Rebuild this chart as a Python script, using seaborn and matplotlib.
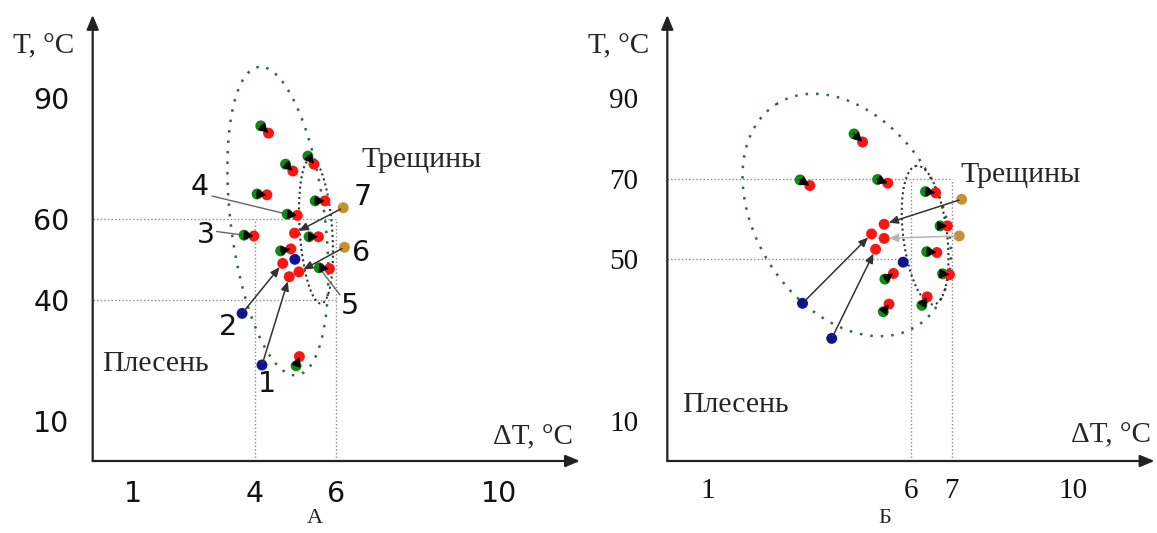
import numpy as np
import pandas as pd
import matplotlib
matplotlib.use("Agg")
import matplotlib.pyplot as plt
import seaborn as sns

sns.set_theme(style="white")
plt.rcParams["font.family"] = ["DejaVu Sans"]
SERIF = ["Liberation Serif", "DejaVu Serif"]
SANS = ["DejaVu Sans"]

# ---------------- data: panel A ----------------
A_green_dT = [4.14, 4.75, 5.30, 4.05, 5.48, 4.79, 3.73, 5.33, 4.63, 5.58, 5.01]
A_green_T = [83.1, 73.6, 75.6, 66.2, 64.5, 61.2, 56.0, 55.6, 52.1, 47.9, 23.6]
A_red_dT = [4.33, 4.93, 5.45, 4.29, 5.72, 5.04, 3.97, 5.56, 4.88, 5.83, 5.09]
A_red_T = [81.3, 71.9, 73.6, 66.0, 64.5, 60.9, 55.8, 55.6, 52.6, 47.7, 25.9]
A_src_kind = ["orange", "orange", "blue", "blue"]
A_src_dT = [6.17, 6.20, 3.68, 4.17]
A_src_T = [62.8, 53.0, 36.6, 23.8]
A_tgt_dT = [4.97, 5.08, 4.68, 4.84]
A_tgt_T = [56.5, 46.9, 49.0, 45.7]
A_extra_dT = [4.98]
A_extra_T = [50.0]
A_xtick_labels = {1: "1", 4: "4", 6: "6", 10: "10"}
A_ytick_labels = {10: "10", 40: "40", 60: "60", 90: "90"}
A_numbers = ["1", "2", "3", "4", "5", "6", "7"]

# ---------------- data: panel B ----------------
B_green_dT = [4.60, 3.27, 5.18, 6.36, 6.72, 6.39, 6.78, 5.36, 5.32, 6.27]
B_green_T = [81.1, 69.7, 69.8, 66.8, 58.3, 51.9, 46.4, 45.1, 37.0, 38.6]
B_red_dT = [4.81, 3.51, 5.43, 6.61, 6.90, 6.64, 6.95, 5.57, 5.46, 6.40]
B_red_T = [79.1, 68.3, 68.9, 66.5, 58.3, 51.7, 46.2, 46.5, 38.9, 40.7]
B_src_kind = ["orange", "orange", "blue", "blue"]
B_src_dT = [7.25, 7.19, 3.33, 4.05]
B_src_T = [64.9, 55.8, 39.1, 30.4]
B_tgt_dT = [5.34, 5.34, 5.03, 5.13]
B_tgt_T = [58.7, 55.2, 56.3, 52.5]
B_extra_dT = [5.81]
B_extra_T = [49.3]
B_xtick_labels = {1: "1", 6: "6", 7: "7", 10: "10"}
B_ytick_labels = {10: "10", 50: "50", 70: "70", 90: "90"}

PAL = {"green": "#0e8a12", "red": "#ff1414", "blue": "#0f1490", "orange": "#c99033"}

# ---------------- layout ----------------
W, H, DPI = 1157, 533, 100
UX, UY = 40.6, 4.033          # px per dT unit, px per degree
XMAX, YMAX = 12.0, 110.6
AX_BOTTOM = 461

fig = plt.figure(figsize=(W / DPI, H / DPI), dpi=DPI)


def make_axes(left_px, xlabels, ylabels, tick_family, tick_size, ypad, xpad):
    ax = fig.add_axes([left_px / W, (H - AX_BOTTOM) / H, XMAX * UX / W, YMAX * UY / H])
    ax.set_xlim(0, XMAX)
    ax.set_ylim(0, YMAX)
    for s in ax.spines.values():
        s.set_visible(False)
    xt = list(range(1, 12))
    yt = list(range(10, 101, 10))
    ax.set_xticks(xt)
    ax.set_xticklabels([xlabels.get(v, "") for v in xt])
    ax.set_yticks(yt)
    ax.set_yticklabels([ylabels.get(v, "") for v in yt])
    ax.tick_params(axis="both", direction="inout", length=14.4, width=0.9,
                   color="#555555", labelcolor="#111111", labelsize=tick_size,
                   labelfontfamily=tick_family)
    ax.tick_params(axis="y", pad=ypad)
    ax.tick_params(axis="x", pad=xpad)
    ap = dict(arrowstyle="-|>,head_length=0.86,head_width=0.36", lw=1.6,
              color="#222222", mutation_scale=10, shrinkA=0, shrinkB=0)
    ax.annotate("", xy=(1, 0), xytext=(0, 0), xycoords="axes fraction",
                textcoords="axes fraction", arrowprops=ap, annotation_clip=False)
    ax.annotate("", xy=(0, 1), xytext=(0, 0), xycoords="axes fraction",
                textcoords="axes fraction", arrowprops=ap, annotation_clip=False)
    ax.set_facecolor("none")
    return ax


def ellipse(ax, cx, cy, a, b, ang, **kw):
    # defined in (dT, T/10) space, which is nearly isotropic on screen
    t = np.linspace(0, 2 * np.pi, 400)
    p = np.deg2rad(ang)
    x = cx + a * np.cos(t) * np.cos(p) - b * np.sin(t) * np.sin(p)
    y = cy + a * np.cos(t) * np.sin(p) + b * np.sin(t) * np.cos(p)
    ax.plot(x, 10 * y, **kw)


def guide(ax, xs, ys):
    ax.plot(xs, ys, color="#8a8a8a", lw=1.0, ls=(0, (1, 1.6)), zorder=1)


def points(ax, gx, gy, rx, ry, skind, sx, sy, tx, ty, ex, ey):
    df = pd.concat([
        pd.DataFrame({"dT": gx, "T": gy, "kind": "green"}),
        pd.DataFrame({"dT": sx, "T": sy, "kind": skind}),
        pd.DataFrame({"dT": ex, "T": ey, "kind": "blue"}),
        pd.DataFrame({"dT": rx, "T": ry, "kind": "red"}),
        pd.DataFrame({"dT": tx, "T": ty, "kind": "red"}),
    ], ignore_index=True)
    sns.scatterplot(data=df, x="dT", y="T", hue="kind", palette=PAL, s=62,
                    linewidth=0, legend=False, ax=ax, zorder=2)
    ax.set_xlabel("")
    ax.set_ylabel("")
    ax.set_xlim(0, XMAX)
    ax.set_ylim(0, YMAX)
    for x0, y0, x1, y1 in zip(gx, gy, rx, ry):
        ax.annotate("", xy=(x1, y1), xytext=(x0, y0),
                    arrowprops=dict(arrowstyle="-|>,head_length=0.55,head_width=0.27",
                                    lw=1.2, color="#000000", mutation_scale=10,
                                    shrinkA=0, shrinkB=0))


def long_arrows(ax, sx, sy, tx, ty, colors):
    for x0, y0, x1, y1, c in zip(sx, sy, tx, ty, colors):
        ax.annotate("", xy=(x1, y1), xytext=(x0, y0),
                    arrowprops=dict(arrowstyle="-|>,head_length=0.55,head_width=0.24",
                                    lw=1.1, color=c, mutation_scale=10,
                                    shrinkA=2, shrinkB=3.5))


def ftext(xp, yp, s, **kw):
    fig.text(xp / W, 1 - yp / H, s, **kw)


# ================= Panel A =================
axA = make_axes(92.7, A_xtick_labels, A_ytick_labels, "DejaVu Sans", 20.5, 9.5, 6.5)
guide(axA, [0, 6], [60, 60])
guide(axA, [0, 6], [40, 40])
guide(axA, [4, 4], [0, 60])
guide(axA, [6, 6], [0, 60])
ellipse(axA, 4.56, 5.95, 3.85, 1.16, 97, color="#2f6b3c", lw=1.8, ls=(0, (1, 3.2)), zorder=1)
ellipse(axA, 5.50, 5.70, 1.80, 0.40, 94, color="#333333", lw=1.5, ls=(0, (1, 1.5)), zorder=1)
points(axA, A_green_dT, A_green_T, A_red_dT, A_red_T, A_src_kind, A_src_dT, A_src_T,
       A_tgt_dT, A_tgt_T, A_extra_dT, A_extra_T)
long_arrows(axA, A_src_dT, A_src_T, A_tgt_dT, A_tgt_T, ["#333333"] * 4)
# leader lines for labels 3, 4, 5
axA.plot([2.94, A_green_dT[5]], [65.7, A_green_T[5]], color="#666666", lw=1.0, zorder=1.5)
axA.plot([3.05, A_green_dT[6]], [56.9, A_green_T[6]], color="#666666", lw=1.0, zorder=1.5)
axA.plot([A_green_dT[9], 6.09], [A_green_T[9], 41.2], color="#666666", lw=1.0, zorder=1.5)
num_pos = [(4.28, 19.1), (3.33, 33.3), (2.78, 56.1), (2.64, 67.9),
           (6.34, 38.4), (6.61, 51.5), (6.66, 65.4)]
for s, (x, y) in zip(A_numbers, num_pos):
    axA.text(x, y, s, ha="center", va="center", fontsize=20.5, family=SANS, color="#111111")

ftext(13, 53, "T, °C", family=SERIF, fontsize=21, va="baseline", ha="left")
ftext(493, 444, "ΔT, °C", family=SERIF, fontsize=21, va="baseline", ha="left")
ftext(361, 167, "Трещины", family=SERIF, fontsize=21.5, va="baseline", ha="left")
ftext(102, 371, "Плесень", family=SERIF, fontsize=21.5, va="baseline", ha="left")
ftext(315, 523, "А", family=SERIF, fontsize=16, va="baseline", ha="center")

# ================= Panel B =================
axB = make_axes(667.3, B_xtick_labels, B_ytick_labels, "Liberation Serif", 21, 13.5, 5)
guide(axB, [0, 7], [70, 70])
guide(axB, [0, 6], [50, 50])
guide(axB, [6, 6], [0, 70])
guide(axB, [7, 7], [0, 70])
ellipse(axB, 4.42, 6.10, 3.25, 2.25, 121.8, color="#2f6b3c", lw=1.8, ls=(0, (1, 3.2)), zorder=1)
ellipse(axB, 6.35, 5.60, 1.73, 0.54, 97, color="#333333", lw=1.5, ls=(0, (1, 1.5)), zorder=1)
points(axB, B_green_dT, B_green_T, B_red_dT, B_red_T, B_src_kind, B_src_dT, B_src_T,
       B_tgt_dT, B_tgt_T, B_extra_dT, B_extra_T)
long_arrows(axB, B_src_dT, B_src_T, B_tgt_dT, B_tgt_T,
            ["#333333", "#b5b5b5", "#333333", "#333333"])

ftext(588, 53, "T, °C", family=SERIF, fontsize=21, va="baseline", ha="left")
ftext(1071, 442, "ΔT, °C", family=SERIF, fontsize=21, va="baseline", ha="left")
ftext(960, 182, "Трещины", family=SERIF, fontsize=21.5, va="baseline", ha="left")
ftext(682, 412, "Плесень", family=SERIF, fontsize=21.5, va="baseline", ha="left")
ftext(885, 523, "Б", family=SERIF, fontsize=16, va="baseline", ha="center")

fig.savefig("out.png", dpi=DPI, facecolor="white")
